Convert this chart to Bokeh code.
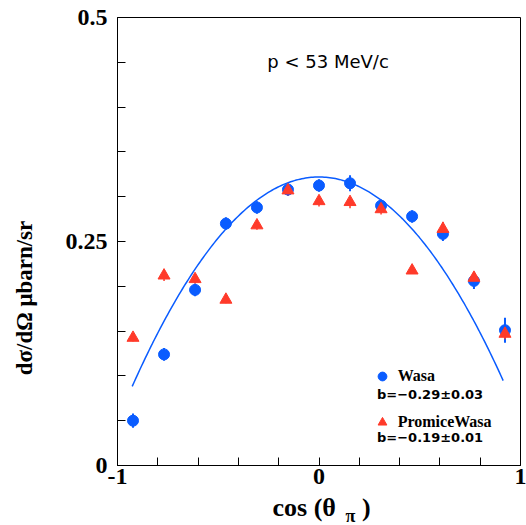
import numpy as np
from bokeh.plotting import figure
from bokeh.models import Label, Legend, LegendItem, FixedTicker, Range1d
from bokeh.embed import file_html
from bokeh.resources import INLINE

# ---- data ----
cos_bins = [-0.923, -0.769, -0.615, -0.462, -0.308, -0.154, 0.0,
            0.154, 0.308, 0.462, 0.615, 0.769, 0.923]
wasa_y = [0.050, 0.124, 0.196, 0.270, 0.288, 0.308, 0.3125,
          0.315, 0.290, 0.278, 0.2585, 0.206, 0.151]
wasa_err = [0.008, 0.007, 0.007, 0.007, 0.007, 0.007, 0.007,
            0.009, 0.007, 0.007, 0.008, 0.009, 0.014]
promice_y = [0.1425, 0.212, 0.208, 0.185, 0.268, 0.307, 0.295,
             0.294, 0.286, 0.2176, 0.264, 0.2095, 0.147]
promice_err = [0.004, 0.006, 0.005, 0.004, 0.005, 0.006, 0.006,
               0.007, 0.006, 0.004, 0.008, 0.006, 0.006]
fit_coef = [0.322, 0.0, -0.272]     # a + b*x + c*x^2
fit_range = [-0.927, 0.914]

x_major = [-1, 0, 1]
x_minor = [-0.8, -0.6, -0.4, -0.2, 0.2, 0.4, 0.6, 0.8]
y_major = [0, 0.25, 0.5]
y_minor = [0.05, 0.1, 0.15, 0.2, 0.3, 0.35, 0.4, 0.45]
x_labels = {-1: "-1", 0: "0", 1: "1"}
y_labels = {0: "0", 0.25: "0.25", 0.5: "0.5"}

BLUE = "#0a5cff"
RED = "#ff3a2a"
SERIF = "Liberation Serif"

p = figure(width=526, height=525, x_range=Range1d(-1, 1), y_range=Range1d(0, 0.5),
           output_backend="svg", toolbar_location=None,
           min_border_left=117, min_border_right=6, min_border_top=17, min_border_bottom=60)
p.background_fill_color = "white"
p.border_fill_color = "white"
p.outline_line_color = "black"
p.outline_line_width = 1
p.xgrid.visible = False
p.ygrid.visible = False

for ax, maj, mn, labs in ((p.xaxis[0], x_major, x_minor, x_labels),
                          (p.yaxis[0], y_major, y_minor, y_labels)):
    ax.ticker = FixedTicker(ticks=maj, minor_ticks=mn)
    ax.major_label_overrides = labs
    ax.axis_line_color = "black"
    ax.major_tick_line_color = "black"
    ax.minor_tick_line_color = "black"
    ax.major_tick_in = 8
    ax.major_tick_out = 0
    ax.minor_tick_in = 8
    ax.minor_tick_out = 0
    ax.major_label_text_font = SERIF
    ax.major_label_text_font_style = "bold"
    ax.major_label_text_font_size = "24px"
    ax.major_label_text_color = "black"
p.xaxis.major_label_standoff = 3
p.yaxis.major_label_standoff = 10

# fit curve
fx = np.linspace(fit_range[0], fit_range[1], 200)
fy = fit_coef[0] + fit_coef[1] * fx + fit_coef[2] * fx ** 2
p.line(fx, fy, line_color=BLUE, line_width=1.5)

# error bars
wx = np.array(cos_bins)
wy = np.array(wasa_y)
we = np.array(wasa_err)
py_ = np.array(promice_y)
pe = np.array(promice_err)
p.segment(wx, wy - we, wx, wy + we, line_color=BLUE, line_width=2)
p.segment(wx, py_ - pe, wx, py_ + pe, line_color=RED, line_width=1.5, line_dash="3 1")

blue_r = p.scatter(wx, wy, marker="circle", size=11, fill_color=BLUE, line_color=BLUE)
red_r = p.scatter(wx, py_, marker="triangle", size=12, fill_color=RED, line_color=RED)

legend = Legend(items=[LegendItem(label="Wasa", renderers=[blue_r]),
                       LegendItem(label="PromiceWasa", renderers=[red_r])],
                location=(253.7, 32.3), margin=0, padding=0, spacing=24,
                glyph_width=22, glyph_height=22, label_height=22, label_standoff=5,
                background_fill_alpha=0, border_line_alpha=0,
                label_text_font=SERIF, label_text_font_style="bold",
                label_text_font_size="16px", label_text_color="black")
p.add_layout(legend)

def mk(x, y, text, size, font="DejaVu Sans", style="normal", align="left",
       baseline="middle", angle=0.0, units="data"):
    return Label(x=x, y=y, text=text, text_font=font, text_font_style=style,
                 text_font_size=size, text_align=align, text_baseline=baseline,
                 angle=angle, text_color="black", x_units=units, y_units=units)

p.add_layout(mk(0.045, 0.451, "p < 53 MeV/c", "18px", align="center"))
p.add_layout(mk(0.288, 0.0792, "b=\u22120.29\u00b10.03", "13px", style="bold"))
p.add_layout(mk(0.288, 0.0316, "b=\u22120.19\u00b10.01", "13px", style="bold"))

# axis titles (side-panel labels, screen units relative to their panel)
p.add_layout(mk(-13, 167.5, "d\u03c3/d\u03a9 \u03bcbarn/sr", "23px", font=SERIF, style="bold",
                align="center", angle=np.pi / 2, units="screen"), "left")
p.add_layout(mk(155, 8, "cos (\u03b8\u2003)", "26px", font=SERIF, style="bold",
                baseline="alphabetic", units="screen"), "below")
p.add_layout(mk(318, -50, "\u03c0", "18px", font=SERIF, style="bold",
                baseline="alphabetic", units="screen"), "left")

open("out.html", "w").write(file_html(p, INLINE))
